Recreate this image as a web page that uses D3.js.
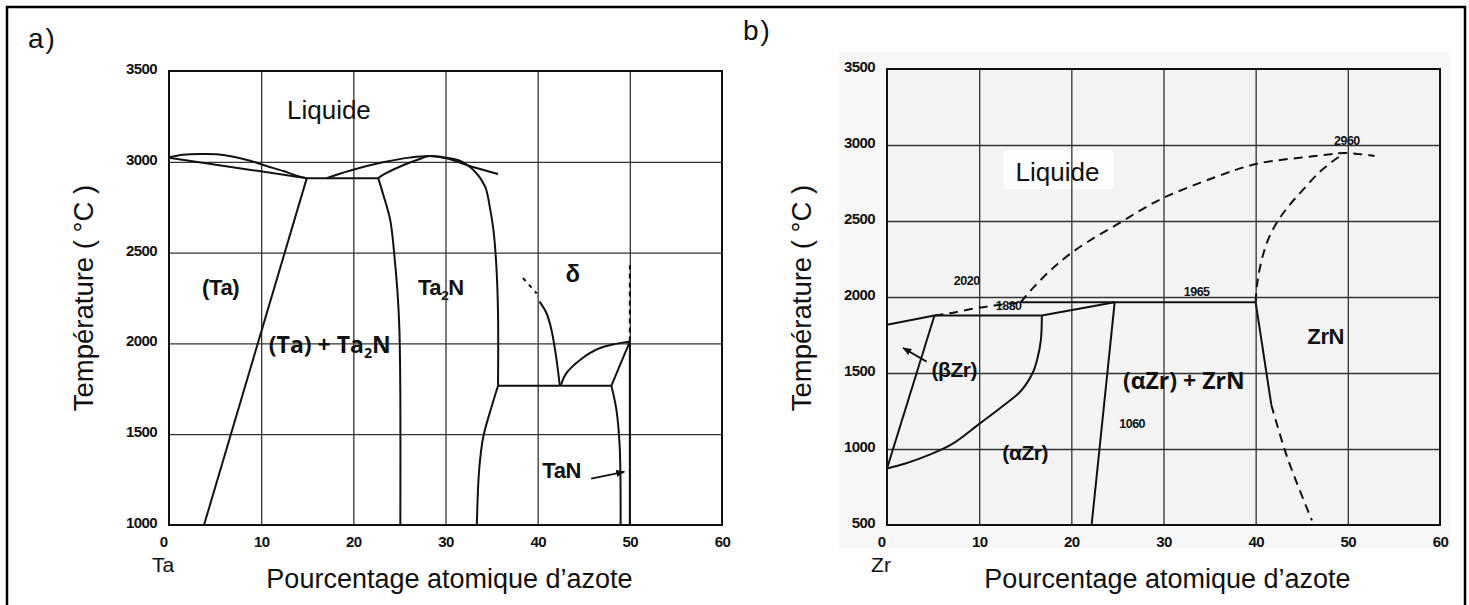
<!DOCTYPE html>
<html>
<head>
<meta charset="utf-8">
<script src="https://cdn.jsdelivr.net/npm/d3@7"></script>
<style>
  body { margin: 0; background: #fff; }
  svg { display: block; }
</style>
</head>
<body>
<svg id="chart" width="1469" height="605"></svg>
<script>
// ---------- panel a) : Ta - N ----------
const taXTicks = [0, 10, 20, 30, 40, 50, 60];
const taYTicks = [1000, 1500, 2000, 2500, 3000, 3500];

// [at.% N, °C]
const taLiquidusLeft = [[0, 3025], [1.55, 3039], [3.4, 3043], [5.2, 3041], [7, 3028], [8.8, 3006], [10.6, 2977], [12.4, 2949], [13.85, 2924], [14.95, 2910]];
const taSolidusLeft = [[0, 3022], [14.95, 2910]];
const taEutectic = [[14.95, 2910], [22.7, 2910]];
const taSolvus = [[14.95, 2910], [3.8, 1000]];
const ta2nLiquidus = [[17.1, 2910], [19.6, 2951], [23.2, 2997], [26.1, 3023], [28.3, 3032], [30.1, 3019], [32.6, 2977], [35.7, 2933]];
const ta2nSolidus = [[22.7, 2910], [23.4, 2933], [25.4, 2981], [26.9, 3010], [28.3, 3032], [29.75, 3025], [31.6, 3005], [33.2, 2946], [34.3, 2863], [34.8, 2753], [35.2, 2625], [35.5, 2441], [35.7, 2166], [35.7, 1767]];
const ta2nLeft = [[22.7, 2910], [23.2, 2827], [24.0, 2680], [24.5, 2459], [24.8, 2276], [25.0, 2074], [25.1, 1707], [25.1, 1000]];
const taPeritectic = [[35.7, 1767], [48.0, 1767]];
const taLowLeft = [[35.7, 1767], [35.0, 1651], [34.1, 1486], [33.65, 1303], [33.4, 1000]];
const deltaLeftDash = [[38.4, 2360], [39.9, 2275]];
const deltaLeft = [[40.2, 2230], [40.96, 2166], [41.5, 2074], [42.0, 1927], [42.4, 1767]];
const deltaArc = [[42.5, 1767], [43.1, 1835], [44.6, 1909], [46.7, 1973], [50, 2010]];
const taNEdge = [[48.0, 1767], [50, 2010]];
const taNLeft = [[48.0, 1767], [48.55, 1633], [48.9, 1431], [49.0, 1000]];
const taNRight = [[50, 2010], [50, 1000]];
const taNRightDash = [[50, 2010], [50, 2430]];
const taNArrow = [[45.8, 1255], [49.4, 1293]];

const taTitleLabels = [{ text: "Liquide", x: 17.35, t: 3236 }];
const taPhaseLabels = [
  { text: "(Ta)", x: 5.6, t: 2268, size: 22 },
  { text: "Ta_2N", x: 29.5, t: 2265, size: 22 },
  { text: "δ", x: 43.8, t: 2340, size: 24 },
  { text: "TaN", x: 42.6, t: 1259, size: 22 }
];
const taNoteLabels = [{ text: "(Ta) + Ta_2N", x: 17.45, t: 1947 }];
const taNumberLabels = [];

// ---------- panel b) : Zr - N ----------
const zrXTicks = [0, 10, 20, 30, 40, 50, 60];
const zrYTicks = [500, 1000, 1500, 2000, 2500, 3000, 3500];

const zrBetaTop = [[0, 1817], [5.15, 1878]];
const zrPeritectic = [[5.15, 1878], [16.8, 1878]];
const zrAlphaTop = [[16.8, 1878], [24.7, 1965]];
const zr1965 = [[14.5, 1965], [40, 1965]];
const zrBetaLeft = [[5.15, 1878], [0, 872]];
const zrAlphaSolvus = [[16.8, 1878], [16.7, 1720], [16.3, 1590], [15.8, 1500], [14.5, 1380], [12.5, 1280], [10.0, 1165], [7.0, 1030], [4.5, 960], [2.0, 905], [0, 872]];
const zrAlphaZrN = [[24.7, 1965], [22.2, 500]];
const zrNLeft = [[40, 1965], [41.7, 1290]];
const zrNLower = [[41.7, 1290], [43.4, 950], [46.1, 530]];
const zrLiquidusBeta = [[5.15, 1878], [6.8, 1893], [10, 1930], [14.5, 1965]];
const zrLiquidusZrN = [[14.5, 1965], [16, 2070], [18, 2190], [20, 2290], [22.5, 2390], [25.1, 2482], [27.5, 2570], [30.1, 2655], [35.5, 2786], [40.1, 2876], [45, 2918], [47.9, 2937], [49.6, 2948], [52.9, 2928]];
const zrNUpper = [[40, 1965], [40.15, 2080], [40.6, 2230], [41.3, 2370], [42.3, 2490], [43.6, 2600], [45.2, 2710], [46.9, 2820], [48.4, 2895], [49.6, 2944]];
const zrBetaArrow = [[4.3, 1575], [1.75, 1665]];

const zrTitleLabels = [{ text: "Liquide", x: 18.5, t: 2764, box: true }];
const zrPhaseLabels = [
  { text: "ZrN", x: 47.6, t: 1690, size: 22 },
  { text: "(βZr)", x: 7.3, t: 1472, size: 21 },
  { text: "(αZr)", x: 15.0, t: 928, size: 21 }
];
const zrNoteLabels = [{ text: "(αZr) + ZrN", x: 32.2, t: 1395 }];
const zrNumberLabels = [
  { text: "2020", x: 8.65, t: 2076 },
  { text: "1880", x: 13.2, t: 1917 },
  { text: "1965", x: 33.6, t: 2004 },
  { text: "2960", x: 49.9, t: 3000 },
  { text: "1060", x: 26.6, t: 1135 }
];

const sansFont = "'Liberation Sans', Arial, sans-serif";
const noteFont = "'Open Sans', 'Liberation Sans', sans-serif";

const svg = d3.select("#chart");

svg.append("defs").append("marker")
    .attr("id", "head")
    .attr("viewBox", "0 0 10 10")
    .attr("refX", 9).attr("refY", 5)
    .attr("markerWidth", 9).attr("markerHeight", 9)
    .attr("markerUnits", "userSpaceOnUse")
    .attr("orient", "auto")
  .append("path")
    .attr("d", "M0,1 L10,5 L0,9 z")
    .attr("fill", "#111");

// outer frame (bottom edge falls outside the picture)
svg.append("rect")
    .attr("x", 7).attr("y", 7)
    .attr("width", 1458).attr("height", 620)
    .attr("fill", "none")
    .attr("stroke", "#000")
    .attr("stroke-width", 2.5);

// text with "_x" meaning subscript x
function addText(layer, px, py, str, o) {
  const t = layer.append("text")
      .attr("x", px).attr("y", py)
      .attr("dy", "0.35em")
      .attr("text-anchor", "middle")
      .attr("font-family", o.family)
      .attr("font-size", o.size)
      .attr("font-weight", o.weight || "normal")
      .attr("letter-spacing", o.spacing || 0)
      .attr("fill", "#111");
  let shift = 0;
  str.split(/(_.)/).filter(s => s.length).forEach(part => {
    if (part[0] === "_") {
      t.append("tspan").attr("font-size", o.size * 0.62).attr("dy", o.size * 0.22).text(part.slice(1));
      shift = -o.size * 0.22;
    } else {
      t.append("tspan").attr("dy", shift).text(part);
      shift = 0;
    }
  });
  return t;
}

function drawPanel(p) {
  const x = d3.scaleLinear([0, 60], [p.left, p.left + 553]);
  const y = d3.scaleLinear(p.yDomain, [525, p.top]);
  const g = svg.append("g");
  const bg = g.append("g");

  if (p.shade) {
    bg.append("rect")
        .attr("x", x(0) - 48).attr("y", y(p.yDomain[1]) - 17)
        .attr("width", 612).attr("height", 496)
        .attr("fill", "#f7f7f7");
    bg.append("rect")
        .attr("x", x(0)).attr("y", y(p.yDomain[1]))
        .attr("width", x(60) - x(0)).attr("height", y(p.yDomain[0]) - y(p.yDomain[1]))
        .attr("fill", "#f4f4f4");
  }

  // grid
  g.append("g")
      .attr("transform", `translate(0,525)`)
      .call(d3.axisBottom(x).tickValues(p.xTicks.slice(1, -1)).tickSize(-(525 - p.top)).tickFormat(""))
      .call(a => a.select(".domain").remove())
      .selectAll("line").attr("stroke", "#333").attr("stroke-width", 1.3);
  g.append("g")
      .attr("transform", `translate(${x(0)},0)`)
      .call(d3.axisLeft(y).tickValues(p.yTicks.slice(1, -1)).tickSize(-553).tickFormat(""))
      .call(a => a.select(".domain").remove())
      .selectAll("line").attr("stroke", "#333").attr("stroke-width", 1.3);

  // plot frame
  g.append("rect")
      .attr("x", x(0)).attr("y", y(p.yDomain[1]))
      .attr("width", x(60) - x(0)).attr("height", y(p.yDomain[0]) - y(p.yDomain[1]))
      .attr("fill", "none").attr("stroke", "#111").attr("stroke-width", 2);

  // tick labels
  const yl = g.append("g")
      .attr("transform", `translate(${x(0)},0)`)
      .call(d3.axisLeft(y).tickValues(p.yTicks).tickSize(0).tickPadding(12).tickFormat(d3.format("d")));
  yl.select(".domain").remove();
  yl.attr("font-family", sansFont).attr("font-size", 15).attr("font-weight", "bold");
  yl.selectAll("text").attr("dy", "0.16em").attr("fill", "#111").attr("letter-spacing", -0.6);

  const xl = g.append("g")
      .attr("transform", `translate(0,525)`)
      .call(d3.axisBottom(x).tickValues(p.xTicks).tickSize(0).tickPadding(11));
  xl.select(".domain").remove();
  xl.attr("font-family", sansFont).attr("font-size", 15).attr("font-weight", "bold");
  xl.selectAll("text").attr("fill", "#111").attr("letter-spacing", -0.6)
      .filter(d => d === 0).attr("dx", -6);

  // element symbol under 0
  g.append("text")
      .attr("x", x(0) - 6).attr("y", 572)
      .attr("text-anchor", "middle")
      .attr("font-family", sansFont).attr("font-size", 21)
      .attr("fill", "#111")
      .text(p.element);

  // axis titles
  g.append("text")
      .attr("x", x(30) + 4).attr("y", 588)
      .attr("text-anchor", "middle")
      .attr("font-family", sansFont).attr("font-size", 27)
      .attr("fill", "#111")
      .text("Pourcentage atomique d’azote");
  g.append("text")
      .attr("transform", `translate(${x(0) - 76},298) rotate(-90)`)
      .attr("text-anchor", "middle")
      .attr("font-family", sansFont).attr("font-size", 27.5)
      .attr("fill", "#111")
      .text("Température ( °C )");

  // panel letter
  g.append("text")
      .attr("x", p.letterX).attr("y", p.letterY)
      .attr("font-family", sansFont).attr("font-size", 28)
      .attr("letter-spacing", 2)
      .attr("fill", "#111")
      .text(p.letter);

  // phase boundaries
  const lineGen = (curve) => d3.line().x(d => x(d[0])).y(d => y(d[1])).curve(curve);
  p.curves.forEach(c => {
    g.append("path")
        .datum(c.data)
        .attr("d", lineGen(c.smooth ? d3.curveCatmullRom.alpha(0.5) : d3.curveLinear))
        .attr("fill", "none")
        .attr("stroke", "#111")
        .attr("stroke-width", 2)
        .attr("stroke-linejoin", "round")
        .attr("stroke-dasharray", c.dash || null);
  });

  p.arrows.forEach(a => {
    g.append("path")
        .datum(a)
        .attr("d", lineGen(d3.curveLinear))
        .attr("stroke", "#111")
        .attr("stroke-width", 1.8)
        .attr("marker-end", "url(#head)");
  });

  // labels
  p.titleLabels.forEach(l => {
    const t = addText(g, x(l.x), y(l.t), l.text, { family: sansFont, size: 26 });
    if (l.box) {
      const b = t.node().getBBox();
      bg.append("rect")
          .attr("x", b.x - 12).attr("y", b.y - 6)
          .attr("width", b.width + 26).attr("height", b.height + 8)
          .attr("fill", "#fdfdfd");
    }
  });
  p.phaseLabels.forEach(l => addText(g, x(l.x), y(l.t), l.text,
      { family: sansFont, size: l.size, weight: "bold", spacing: -0.4 }));
  p.noteLabels.forEach(l => addText(g, x(l.x), y(l.t), l.text,
      { family: noteFont, size: 23, weight: "bold" }));
  p.numberLabels.forEach(l => addText(g, x(l.x), y(l.t), l.text,
      { family: sansFont, size: 12.5, weight: "bold", spacing: -0.5 }));
}

drawPanel({
  left: 169, top: 71, yDomain: [1000, 3500],
  xTicks: taXTicks, yTicks: taYTicks,
  element: "Ta", letter: "a)", letterX: 28, letterY: 48,
  curves: [
    { data: taLiquidusLeft, smooth: true },
    { data: taSolidusLeft },
    { data: taEutectic },
    { data: taSolvus },
    { data: ta2nLiquidus, smooth: true },
    { data: ta2nSolidus, smooth: true },
    { data: ta2nLeft, smooth: true },
    { data: taPeritectic },
    { data: taLowLeft, smooth: true },
    { data: deltaLeftDash, dash: "4,5" },
    { data: deltaLeft, smooth: true },
    { data: deltaArc, smooth: true },
    { data: taNEdge },
    { data: taNLeft, smooth: true },
    { data: taNRight },
    { data: taNRightDash, dash: "5,4" }
  ],
  arrows: [taNArrow],
  titleLabels: taTitleLabels, phaseLabels: taPhaseLabels,
  noteLabels: taNoteLabels, numberLabels: taNumberLabels
});

drawPanel({
  left: 887, top: 69, yDomain: [500, 3500], shade: true,
  xTicks: zrXTicks, yTicks: zrYTicks,
  element: "Zr", letter: "b)", letterX: 743, letterY: 40,
  curves: [
    { data: zrBetaTop },
    { data: zrPeritectic },
    { data: zrAlphaTop },
    { data: zr1965 },
    { data: zrBetaLeft },
    { data: zrAlphaSolvus, smooth: true },
    { data: zrAlphaZrN },
    { data: zrNLeft },
    { data: zrNLower, smooth: true, dash: "9,6" },
    { data: zrLiquidusBeta, smooth: true, dash: "9,6" },
    { data: zrLiquidusZrN, smooth: true, dash: "9,6" },
    { data: zrNUpper, smooth: true, dash: "9,6" }
  ],
  arrows: [zrBetaArrow],
  titleLabels: zrTitleLabels, phaseLabels: zrPhaseLabels,
  noteLabels: zrNoteLabels, numberLabels: zrNumberLabels
});
</script>
</body>
</html>
